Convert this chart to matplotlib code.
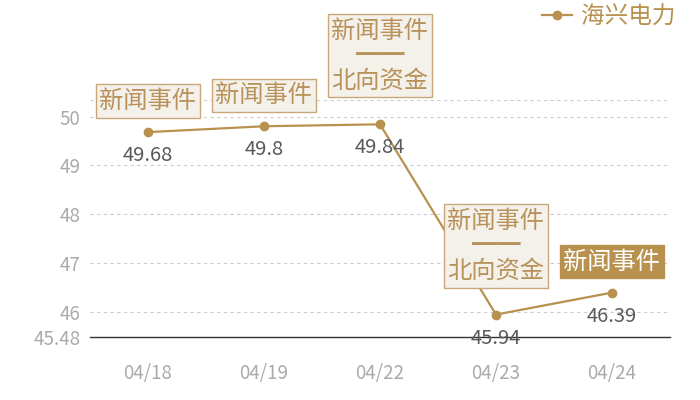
import matplotlib.pyplot as plt
import numpy as np

plt.rcParams['font.family'] = ['Noto Sans CJK SC', 'DejaVu Sans']

dates = ['04/18', '04/19', '04/22', '04/23', '04/24']
prices = [49.68, 49.8, 49.84, 45.94, 46.39]
events = ['新闻事件', '新闻事件', '新闻事件\n━━\n北向资金', '新闻事件\n━━\n北向资金', '新闻事件']
highlight = [False, False, False, False, True]
series_name = '海兴电力'

gold = '#b8914f'
box_fill = '#f4f0ea'
box_edge = '#c9a77a'
text_gold = '#b8925a'

fig = plt.figure(figsize=(7, 4), dpi=100)
ax = fig.add_axes([90 / 700, 63 / 400, 580 / 700, 237 / 400])

x = np.arange(len(dates))
ymin = min(prices) * 0.99
ymax = max(prices) * 1.01

ax.plot(x, prices, '-o', color=gold, linewidth=1.6, markersize=6, label=series_name, zorder=3)

ax.set_xlim(-0.5, len(dates) - 0.5)
ax.set_ylim(ymin, ymax)

yt = [round(ymin, 2)] + list(range(46, 51))
ax.set_yticks(yt)
ax.set_yticklabels([f'{v:g}' for v in yt])
for v in yt[1:] + [ymax]:
    ax.axhline(v, color='#cccccc', linewidth=0.8, linestyle=(0, (3, 3)), zorder=1)

ax.set_xticks(x)
ax.set_xticklabels(dates)
ax.tick_params(axis='both', length=0, labelsize=13.5, labelcolor='#aaaaaa')
ax.tick_params(axis='x', pad=19)
ax.tick_params(axis='y', pad=7)

for s in ['top', 'right', 'left']:
    ax.spines[s].set_visible(False)
ax.spines['bottom'].set_color('#333333')
ax.spines['bottom'].set_linewidth(1)

# value labels under the points
for xi, v in zip(x, prices):
    ax.annotate(f'{v:g}', (xi, v), xytext=(0, -17), textcoords='offset points',
                ha='center', va='center', fontsize=14.5, color='#595959', zorder=4)

# event boxes above the points
for xi, v, ev, hl in zip(x, prices, events, highlight):
    lines = ev.count('\n') + 1
    dy = 22 if lines > 1 else 13
    if hl:
        bb = dict(boxstyle='square,pad=0.15', fc=gold, ec=gold, lw=1)
        tc = 'white'
    else:
        bb = dict(boxstyle='square,pad=0.15', fc=box_fill, ec=box_edge, lw=1)
        tc = text_gold
    ax.annotate(ev, (xi, v), xytext=(0, dy), textcoords='offset points',
                ha='center', va='bottom', fontsize=17.5, color=tc, linespacing=0.95,
                bbox=bb, zorder=5, annotation_clip=False)

leg = ax.legend(loc='center right', bbox_to_anchor=(687 / 700, 1 - 17 / 400),
                bbox_transform=fig.transFigure, frameon=False, fontsize=17,
                handlelength=1.3, handletextpad=0.35, borderpad=0)
for t in leg.get_texts():
    t.set_color(gold)

fig.savefig('out.png', dpi=100)
